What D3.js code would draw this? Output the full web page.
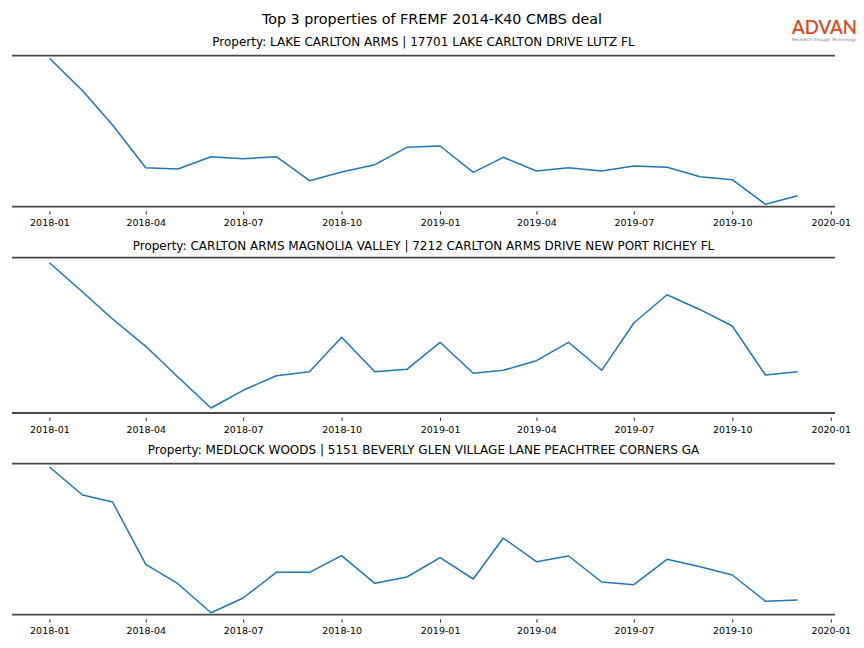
<!DOCTYPE html>
<html>
<head>
<meta charset="utf-8">
<script src="https://cdn.jsdelivr.net/npm/d3@7"></script>
<style>
  html, body { margin: 0; padding: 0; background: #fff; }
  svg { display: block; font-family: "DejaVu Sans", sans-serif; }
</style>
</head>
<body>
<svg id="chart" width="864" height="648"></svg>
<script>
// ---------------- data ----------------
const months = ["2018-01","2018-02","2018-03","2018-04","2018-05","2018-06","2018-07","2018-08","2018-09","2018-10","2018-11","2018-12",
                "2019-01","2019-02","2019-03","2019-04","2019-05","2019-06","2019-07","2019-08","2019-09","2019-10","2019-11","2019-12"];
const tickLabels = ["2018-01","2018-04","2018-07","2018-10","2019-01","2019-04","2019-07","2019-10","2020-01"];

const mainTitle = "Top 3 properties of FREMF 2014-K40 CMBS deal";
const propertyTitles = [
  "Property: LAKE CARLTON ARMS | 17701 LAKE CARLTON DRIVE LUTZ FL",
  "Property: CARLTON ARMS MAGNOLIA VALLEY | 7212 CARLTON ARMS DRIVE NEW PORT RICHEY FL",
  "Property: MEDLOCK WOODS | 5151 BEVERLY GLEN VILLAGE LANE PEACHTREE CORNERS GA"
];

// relative activity (no y-axis shown in the reference)
const lakeCarlton = [1484,1160,817,390,377,500,480,500,260,347,420,594,607,344,494,357,390,357,407,394,300,270,24,110];
const magnoliaValley = [1503,1210,940,667,360,50,227,373,413,757,413,437,707,397,427,523,707,427,900,1183,1033,870,380,413];
const medlockWoods = [1477,1197,1127,504,310,20,167,424,424,590,314,377,570,357,767,530,587,327,300,554,480,397,134,147];

const seriesList = [lakeCarlton, magnoliaValley, medlockWoods];
const yDomains = [[0,1510],[0,1553],[0,1510]];

// ---------------- layout ----------------
const svg = d3.select("#chart");
const W = 864;
const axLeft = 12, axRight = 835;
const panels = [
  {top: 55.7, bottom: 206.7, titleY: 46},
  {top: 257.7, bottom: 413, titleY: 250},
  {top: 463.7, bottom: 614.7, titleY: 454}
];

const parse = d3.timeParse("%Y-%m");
const dates = months.map(parse);
const tickDates = tickLabels.map(parse);

// matplotlib-like 5% margin on x
const span = dates[dates.length-1] - dates[0];
const x = d3.scaleTime()
  .domain([new Date(+dates[0] - span*0.05), new Date(+dates[dates.length-1] + span*0.05)])
  .range([axLeft, axRight]);

// main title
svg.append("text")
  .attr("x", W/2).attr("y", 24)
  .attr("text-anchor", "middle")
  .attr("font-size", "14.3px")
  .attr("fill", "#000")
  .text(mainTitle);

// logo
const logo = svg.append("g");
logo.append("text")
  .attr("x", 792).attr("y", 34)
  .attr("font-family", "Lato, 'Open Sans', sans-serif")
  .attr("font-size", "18.5px")
  .attr("font-weight", "600")
  .attr("textLength", 65)
  .attr("lengthAdjust", "spacingAndGlyphs")
  .attr("fill", "#e2471c")
  .text("ADVAN");
logo.append("text")
  .attr("x", 792).attr("y", 40.5)
  .attr("font-size", "4.2px")
  .attr("textLength", 64)
  .attr("lengthAdjust", "spacingAndGlyphs")
  .attr("fill", "#777")
  .text("Research through Technology");

panels.forEach((p, i) => {
  const g = svg.append("g");
  const y = d3.scaleLinear().domain(yDomains[i]).range([p.bottom, p.top]);

  // panel title
  g.append("text")
    .attr("x", (axLeft + axRight)/2).attr("y", p.titleY)
    .attr("text-anchor", "middle")
    .attr("font-size", "12px")
    .attr("fill", "#000")
    .text(propertyTitles[i]);

  // x axis (ticks sit slightly below the drawn spine, as in the reference)
  const xAxis = d3.axisBottom(x)
    .tickValues(tickDates)
    .tickFormat(d3.timeFormat("%Y-%m"))
    .tickSize(3.5)
    .tickPadding(5);
  const ax = g.append("g")
    .attr("transform", `translate(0,${p.bottom + 4.5})`)
    .call(xAxis);
  ax.select(".domain").remove();
  ax.selectAll(".tick line").attr("stroke", "#000").attr("stroke-width", 0.8);
  ax.selectAll(".tick text")
    .attr("font-family", "'DejaVu Sans', sans-serif")
    .attr("font-size", "9.5px")
    .attr("fill", "#000");

  // line
  const line = d3.line()
    .x((d, k) => x(dates[k]))
    .y(d => y(d));
  g.append("path")
    .datum(seriesList[i])
    .attr("fill", "none")
    .attr("stroke", "#1f77b4")
    .attr("stroke-width", 1.5)
    .attr("stroke-linejoin", "round")
    .attr("d", line);

  // top and bottom spines
  [p.top, p.bottom].forEach(yy => {
    g.append("line")
      .attr("x1", axLeft).attr("x2", axRight)
      .attr("y1", yy).attr("y2", yy)
      .attr("stroke", "#474747")
      .attr("stroke-width", 1.8);
  });
});
</script>
</body>
</html>
